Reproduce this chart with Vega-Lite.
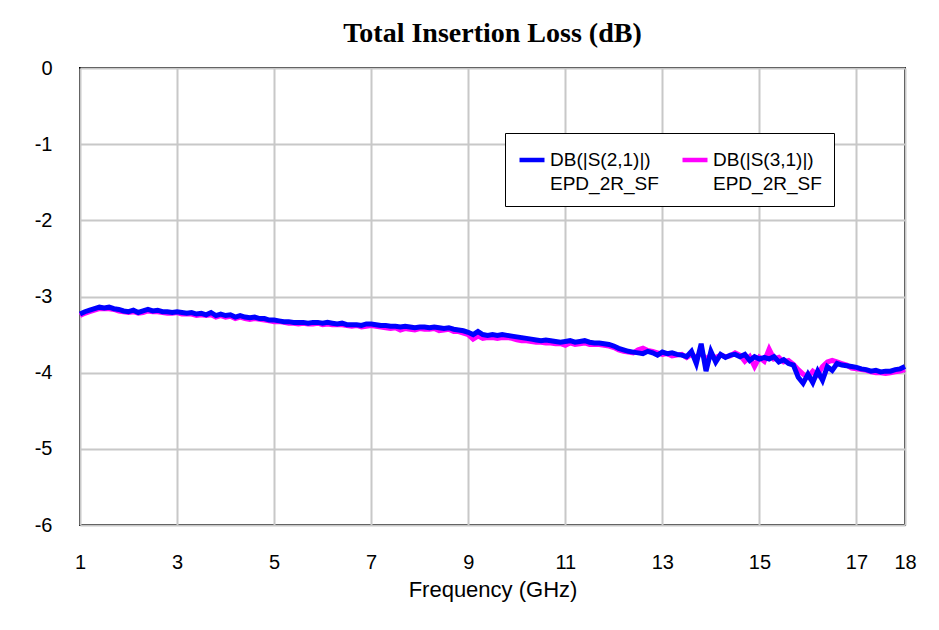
{
  "$schema": "https://vega.github.io/schema/vega-lite/v6.json",
  "width": 825,
  "height": 457,
  "autosize": {"type": "none"},
  "padding": {"left": 80, "top": 68, "right": 34, "bottom": 105},
  "background": "white",
  "config": {
    "font": "Liberation Sans",
    "view": {"stroke": "black", "strokeWidth": 2}
  },
  "title": {
    "text": "Total Insertion Loss (dB)",
    "font": "Liberation Serif",
    "fontSize": 28,
    "fontWeight": "bold",
    "color": "black",
    "offset": 10,
    "anchor": "middle"
  },
  "data": {
    "values": [
      {"f":1.0,"a":-3.23,"b":-3.25},{"f":1.1,"a":-3.20,"b":-3.22},{"f":1.2,"a":-3.18,"b":-3.20},{"f":1.3,"a":-3.16,"b":-3.18},{"f":1.4,"a":-3.14,"b":-3.16},
      {"f":1.5,"a":-3.15,"b":-3.16},{"f":1.6,"a":-3.14,"b":-3.16},{"f":1.7,"a":-3.16,"b":-3.17},{"f":1.8,"a":-3.17,"b":-3.19},{"f":1.9,"a":-3.19,"b":-3.20},
      {"f":2.0,"a":-3.20,"b":-3.21},{"f":2.1,"a":-3.18,"b":-3.20},{"f":2.2,"a":-3.21,"b":-3.22},{"f":2.3,"a":-3.19,"b":-3.21},{"f":2.4,"a":-3.17,"b":-3.19},
      {"f":2.5,"a":-3.19,"b":-3.20},{"f":2.6,"a":-3.18,"b":-3.20},{"f":2.7,"a":-3.20,"b":-3.21},{"f":2.8,"a":-3.20,"b":-3.22},{"f":2.9,"a":-3.21,"b":-3.22},
      {"f":3.0,"a":-3.20,"b":-3.21},{"f":3.1,"a":-3.21,"b":-3.23},{"f":3.2,"a":-3.22,"b":-3.23},{"f":3.3,"a":-3.21,"b":-3.23},{"f":3.4,"a":-3.23,"b":-3.25},
      {"f":3.5,"a":-3.22,"b":-3.24},{"f":3.6,"a":-3.24,"b":-3.25},{"f":3.7,"a":-3.21,"b":-3.24},{"f":3.8,"a":-3.25,"b":-3.27},{"f":3.9,"a":-3.23,"b":-3.25},
      {"f":4.0,"a":-3.25,"b":-3.27},{"f":4.1,"a":-3.24,"b":-3.26},{"f":4.2,"a":-3.27,"b":-3.29},{"f":4.3,"a":-3.25,"b":-3.27},{"f":4.4,"a":-3.27,"b":-3.29},
      {"f":4.5,"a":-3.28,"b":-3.30},{"f":4.6,"a":-3.27,"b":-3.29},{"f":4.7,"a":-3.29,"b":-3.30},{"f":4.8,"a":-3.29,"b":-3.31},{"f":4.9,"a":-3.31,"b":-3.32},
      {"f":5.0,"a":-3.31,"b":-3.33},{"f":5.1,"a":-3.32,"b":-3.33},{"f":5.2,"a":-3.33,"b":-3.34},{"f":5.3,"a":-3.33,"b":-3.35},{"f":5.4,"a":-3.34,"b":-3.35},
      {"f":5.5,"a":-3.34,"b":-3.36},{"f":5.6,"a":-3.34,"b":-3.35},{"f":5.7,"a":-3.35,"b":-3.36},{"f":5.8,"a":-3.34,"b":-3.36},{"f":5.9,"a":-3.34,"b":-3.35},
      {"f":6.0,"a":-3.35,"b":-3.37},{"f":6.1,"a":-3.34,"b":-3.36},{"f":6.2,"a":-3.35,"b":-3.37},{"f":6.3,"a":-3.36,"b":-3.37},{"f":6.4,"a":-3.35,"b":-3.37},
      {"f":6.5,"a":-3.37,"b":-3.38},{"f":6.6,"a":-3.37,"b":-3.39},{"f":6.7,"a":-3.37,"b":-3.38},{"f":6.8,"a":-3.38,"b":-3.40},{"f":6.9,"a":-3.36,"b":-3.39},
      {"f":7.0,"a":-3.36,"b":-3.38},{"f":7.1,"a":-3.37,"b":-3.39},{"f":7.2,"a":-3.38,"b":-3.40},{"f":7.3,"a":-3.38,"b":-3.41},{"f":7.4,"a":-3.39,"b":-3.42},
      {"f":7.5,"a":-3.39,"b":-3.41},{"f":7.6,"a":-3.40,"b":-3.44},{"f":7.7,"a":-3.39,"b":-3.42},{"f":7.8,"a":-3.40,"b":-3.43},{"f":7.9,"a":-3.41,"b":-3.44},
      {"f":8.0,"a":-3.40,"b":-3.42},{"f":8.1,"a":-3.40,"b":-3.43},{"f":8.2,"a":-3.41,"b":-3.43},{"f":8.3,"a":-3.40,"b":-3.42},{"f":8.4,"a":-3.41,"b":-3.45},
      {"f":8.5,"a":-3.42,"b":-3.44},{"f":8.6,"a":-3.41,"b":-3.43},{"f":8.7,"a":-3.43,"b":-3.46},{"f":8.8,"a":-3.44,"b":-3.46},{"f":8.9,"a":-3.45,"b":-3.48},
      {"f":9.0,"a":-3.47,"b":-3.50},{"f":9.1,"a":-3.50,"b":-3.56},{"f":9.2,"a":-3.46,"b":-3.52},{"f":9.3,"a":-3.50,"b":-3.55},{"f":9.4,"a":-3.51,"b":-3.54},
      {"f":9.5,"a":-3.50,"b":-3.54},{"f":9.6,"a":-3.51,"b":-3.55},{"f":9.7,"a":-3.50,"b":-3.54},{"f":9.8,"a":-3.51,"b":-3.54},{"f":9.9,"a":-3.52,"b":-3.55},
      {"f":10.0,"a":-3.53,"b":-3.57},{"f":10.1,"a":-3.54,"b":-3.58},{"f":10.2,"a":-3.55,"b":-3.58},{"f":10.3,"a":-3.56,"b":-3.59},{"f":10.4,"a":-3.57,"b":-3.60},
      {"f":10.5,"a":-3.58,"b":-3.60},{"f":10.6,"a":-3.57,"b":-3.61},{"f":10.7,"a":-3.58,"b":-3.61},{"f":10.8,"a":-3.59,"b":-3.62},{"f":10.9,"a":-3.60,"b":-3.62},
      {"f":11.0,"a":-3.59,"b":-3.64},{"f":11.1,"a":-3.58,"b":-3.61},{"f":11.2,"a":-3.60,"b":-3.63},{"f":11.3,"a":-3.59,"b":-3.62},{"f":11.4,"a":-3.58,"b":-3.61},
      {"f":11.5,"a":-3.60,"b":-3.63},{"f":11.6,"a":-3.61,"b":-3.63},{"f":11.7,"a":-3.61,"b":-3.63},{"f":11.8,"a":-3.62,"b":-3.64},{"f":11.9,"a":-3.63,"b":-3.65},
      {"f":12.0,"a":-3.65,"b":-3.67},{"f":12.1,"a":-3.68,"b":-3.70},{"f":12.2,"a":-3.70,"b":-3.72},{"f":12.3,"a":-3.72,"b":-3.73},{"f":12.4,"a":-3.73,"b":-3.74},
      {"f":12.5,"a":-3.74,"b":-3.70},{"f":12.6,"a":-3.75,"b":-3.68},{"f":12.7,"a":-3.72,"b":-3.71},{"f":12.8,"a":-3.74,"b":-3.72},{"f":12.9,"a":-3.77,"b":-3.74},
      {"f":13.0,"a":-3.73,"b":-3.76},{"f":13.1,"a":-3.75,"b":-3.75},{"f":13.2,"a":-3.74,"b":-3.78},{"f":13.3,"a":-3.76,"b":-3.77},{"f":13.4,"a":-3.77,"b":-3.76},
      {"f":13.5,"a":-3.79,"b":-3.80},{"f":13.6,"a":-3.72,"b":-3.76},{"f":13.7,"a":-3.88,"b":-3.80},{"f":13.8,"a":-3.62,"b":-3.74},{"f":13.9,"a":-3.98,"b":-3.82},
      {"f":14.0,"a":-3.72,"b":-3.77},{"f":14.1,"a":-3.86,"b":-3.80},{"f":14.2,"a":-3.76,"b":-3.77},{"f":14.3,"a":-3.80,"b":-3.79},{"f":14.4,"a":-3.77,"b":-3.78},
      {"f":14.5,"a":-3.76,"b":-3.74},{"f":14.6,"a":-3.79,"b":-3.77},{"f":14.7,"a":-3.76,"b":-3.85},{"f":14.8,"a":-3.84,"b":-3.79},{"f":14.9,"a":-3.79,"b":-3.92},
      {"f":15.0,"a":-3.82,"b":-3.80},{"f":15.1,"a":-3.80,"b":-3.85},{"f":15.2,"a":-3.82,"b":-3.69},{"f":15.3,"a":-3.79,"b":-3.82},{"f":15.4,"a":-3.86,"b":-3.80},
      {"f":15.5,"a":-3.83,"b":-3.86},{"f":15.6,"a":-3.88,"b":-3.84},{"f":15.7,"a":-3.90,"b":-3.89},{"f":15.8,"a":-4.06,"b":-3.96},{"f":15.9,"a":-4.14,"b":-4.02},
      {"f":16.0,"a":-4.02,"b":-4.06},{"f":16.1,"a":-4.13,"b":-3.98},{"f":16.2,"a":-3.98,"b":-4.03},{"f":16.3,"a":-4.10,"b":-3.92},{"f":16.4,"a":-3.92,"b":-3.86},
      {"f":16.5,"a":-3.97,"b":-3.84},{"f":16.6,"a":-3.88,"b":-3.86},{"f":16.7,"a":-3.90,"b":-3.88},{"f":16.8,"a":-3.91,"b":-3.90},{"f":16.9,"a":-3.92,"b":-3.94},
      {"f":17.0,"a":-3.93,"b":-3.95},{"f":17.1,"a":-3.95,"b":-3.96},{"f":17.2,"a":-3.96,"b":-3.97},{"f":17.3,"a":-3.98,"b":-3.99},{"f":17.4,"a":-3.97,"b":-4.00},
      {"f":17.5,"a":-3.99,"b":-4.00},{"f":17.6,"a":-3.98,"b":-4.01},{"f":17.7,"a":-3.98,"b":-4.00},{"f":17.8,"a":-3.96,"b":-3.99},{"f":17.9,"a":-3.95,"b":-3.98},
      {"f":18.0,"a":-3.92,"b":-3.96}
    ]
  },
  "encoding": {
    "x": {
      "field": "f",
      "type": "quantitative",
      "scale": {"domain": [1, 18], "nice": false, "zero": false},
      "axis": {
        "title": "Frequency (GHz)",
        "titleFont": "Liberation Sans",
        "titleFontSize": 22,
        "titleFontWeight": "normal",
        "titleColor": "black",
        "titlePadding": 7,
        "values": [1, 3, 5, 7, 9, 11, 13, 15, 17, 18],
        "labelFontSize": 20,
        "labelColor": "black",
        "labelPadding": 27,
        "labelFlush": false,
        "ticks": false,
        "domain": false,
        "grid": true,
        "gridColor": "#c8c8c8",
        "gridWidth": 2
      }
    }
  },
  "layer": [
    {
      "mark": {"type": "line", "strokeWidth": 5, "interpolate": "linear"},
      "encoding": {
        "y": {
          "field": "b",
          "type": "quantitative",
          "scale": {"domain": [-6, 0], "nice": false, "zero": false},
          "axis": {
            "title": null,
            "values": [0, -1, -2, -3, -4, -5, -6],
            "labelExpr": "'' + datum.value",
            "labelFontSize": 20,
            "labelColor": "black",
            "labelPadding": 28,
            "ticks": false,
            "domain": false,
            "grid": true,
            "gridColor": "#c8c8c8",
            "gridWidth": 2
          }
        },
        "color": {
          "datum": "DB(|S(3,1)|) EPD_2R_SF",
          "type": "nominal",
          "scale": {
            "domain": ["DB(|S(2,1)|) EPD_2R_SF", "DB(|S(3,1)|) EPD_2R_SF"],
            "range": ["#0000ff", "#ff00ff"]
          },
          "legend": {
            "title": null,
            "orient": "none",
            "legendX": 425,
            "legendY": 65,
            "direction": "horizontal",
            "columns": 2,
            "columnPadding": 14,
            "padding": 12,
            "fillColor": "white",
            "strokeColor": "black",
            "symbolType": "stroke",
            "symbolSize": 625,
            "symbolStrokeWidth": 4.5,
            "labelExpr": "split(datum.label, ' ')",
            "labelFontSize": 19,
            "labelColor": "black",
            "labelOffset": 3,
            "labelLimit": 300,
            "encode": {
              "labels": {"update": {"lineHeight": {"value": 24}}}
            }
          }
        }
      }
    },
    {
      "mark": {"type": "line", "strokeWidth": 5, "interpolate": "linear"},
      "encoding": {
        "y": {"field": "a", "type": "quantitative"},
        "color": {"datum": "DB(|S(2,1)|) EPD_2R_SF", "type": "nominal"}
      }
    }
  ]
}
